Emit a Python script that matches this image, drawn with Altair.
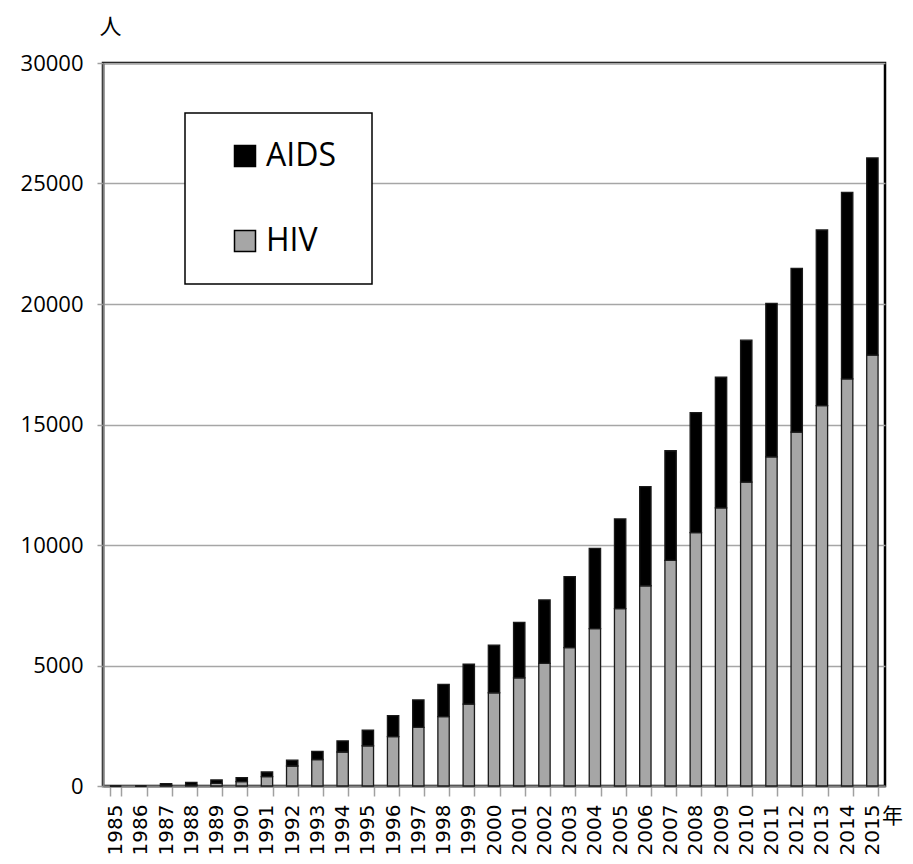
import altair as alt
import pandas as pd

years = [str(y) for y in range(1985, 2016)]
hiv = [0, 0, 30, 40, 110, 180, 390, 830, 1100, 1410, 1670, 2050, 2430, 2880, 3400,
       3870, 4490, 5090, 5740, 6530, 7360, 8310, 9360, 10510, 11540, 12610, 13660,
       14680, 15780, 16890, 17880]
aids = [0, 0, 70, 110, 140, 165, 190, 240, 340, 460, 650, 870, 1140, 1340, 1660,
        1970, 2300, 2630, 2950, 3330, 3720, 4110, 4550, 4980, 5420, 5890, 6370,
        6800, 7290, 7740, 8180]
series = ["AIDS", "HIV"]
colors = ["#000000", "#a6a6a6"]

rows = []
for y, h, a in zip(years, hiv, aids):
    rows.append({"year": y, "series": "HIV", "value": h, "ord": 0})
    rows.append({"year": y, "series": "AIDS", "value": a, "ord": 1})
df = pd.DataFrame(rows)

PAD = "\u00a0\u200b"

chart = alt.Chart(df).mark_bar(stroke="#1a1a1a", strokeWidth=1.3).encode(
    x=alt.X("year:N", sort=years,
            scale=alt.Scale(paddingInner=0.55, paddingOuter=0.275),
            axis=alt.Axis(title="年", titleAngle=0, titleX=789, titleY=30,
                          titleAlign="center", titleBaseline="middle",
                          titleFont="Noto Sans CJK JP", titleFontSize=21,
                          titleFontWeight="normal", titleColor="#000",
                          labelAngle=-90, labelAlign="right", labelBaseline="middle",
                          labelFont="DejaVu Sans", labelFontSize=20, labelColor="#000",
                          labelPadding=8, tickSize=10, tickBand="extent",
                          tickColor="#a0a0a0", tickWidth=1.5,
                          domainColor="#808080", domainWidth=2, grid=False)),
    y=alt.Y("value:Q", stack="zero",
            scale=alt.Scale(domain=[0, 30000], nice=False),
            axis=alt.Axis(title="人", titleAngle=0, titleX=7, titleY=-37,
                          titleAlign="center", titleBaseline="middle",
                          titleFont="Noto Sans CJK JP", titleFontSize=22,
                          titleFontWeight="normal", titleColor="#000",
                          values=[0, 5000, 10000, 15000, 20000, 25000, 30000],
                          format="d", labelFont="Open Sans", labelFontSize=22,
                          labelColor="#000", labelPadding=14, tickSize=6,
                          tickColor="#a0a0a0", tickWidth=1.5,
                          domainColor="#808080", domainWidth=2,
                          grid=True, gridColor="#a6a6a6", gridWidth=1.5)),
    color=alt.Color("series:N",
                    scale=alt.Scale(domain=series, range=colors),
                    legend=alt.Legend(title=None, orient="none", legendX=82, legendY=50,
                                      fillColor="#ffffff", strokeColor="#000000",
                                      padding=27, rowPadding=53,
                                      symbolType="square", symbolSize=441,
                                      symbolStrokeColor="#000000", symbolStrokeWidth=1.5,
                                      symbolOffset=17, labelOffset=5,
                                      labelFont="Open Sans", labelFontSize=32,
                                      labelColor="#000",
                                      labelExpr=f"datum.label + '{PAD}'")),
    order=alt.Order("ord:Q", sort="ascending"),
).properties(
    width=782, height=723,
    autosize=alt.AutoSizeParams(type="none"),
    padding={"left": 95, "top": 55, "right": 20, "bottom": 69},
).configure_view(stroke="#000000", strokeWidth=2.5).configure_legend(strokeWidth=1.5)

chart.save("out.html", embed_options={"renderer": "svg", "actions": False})
